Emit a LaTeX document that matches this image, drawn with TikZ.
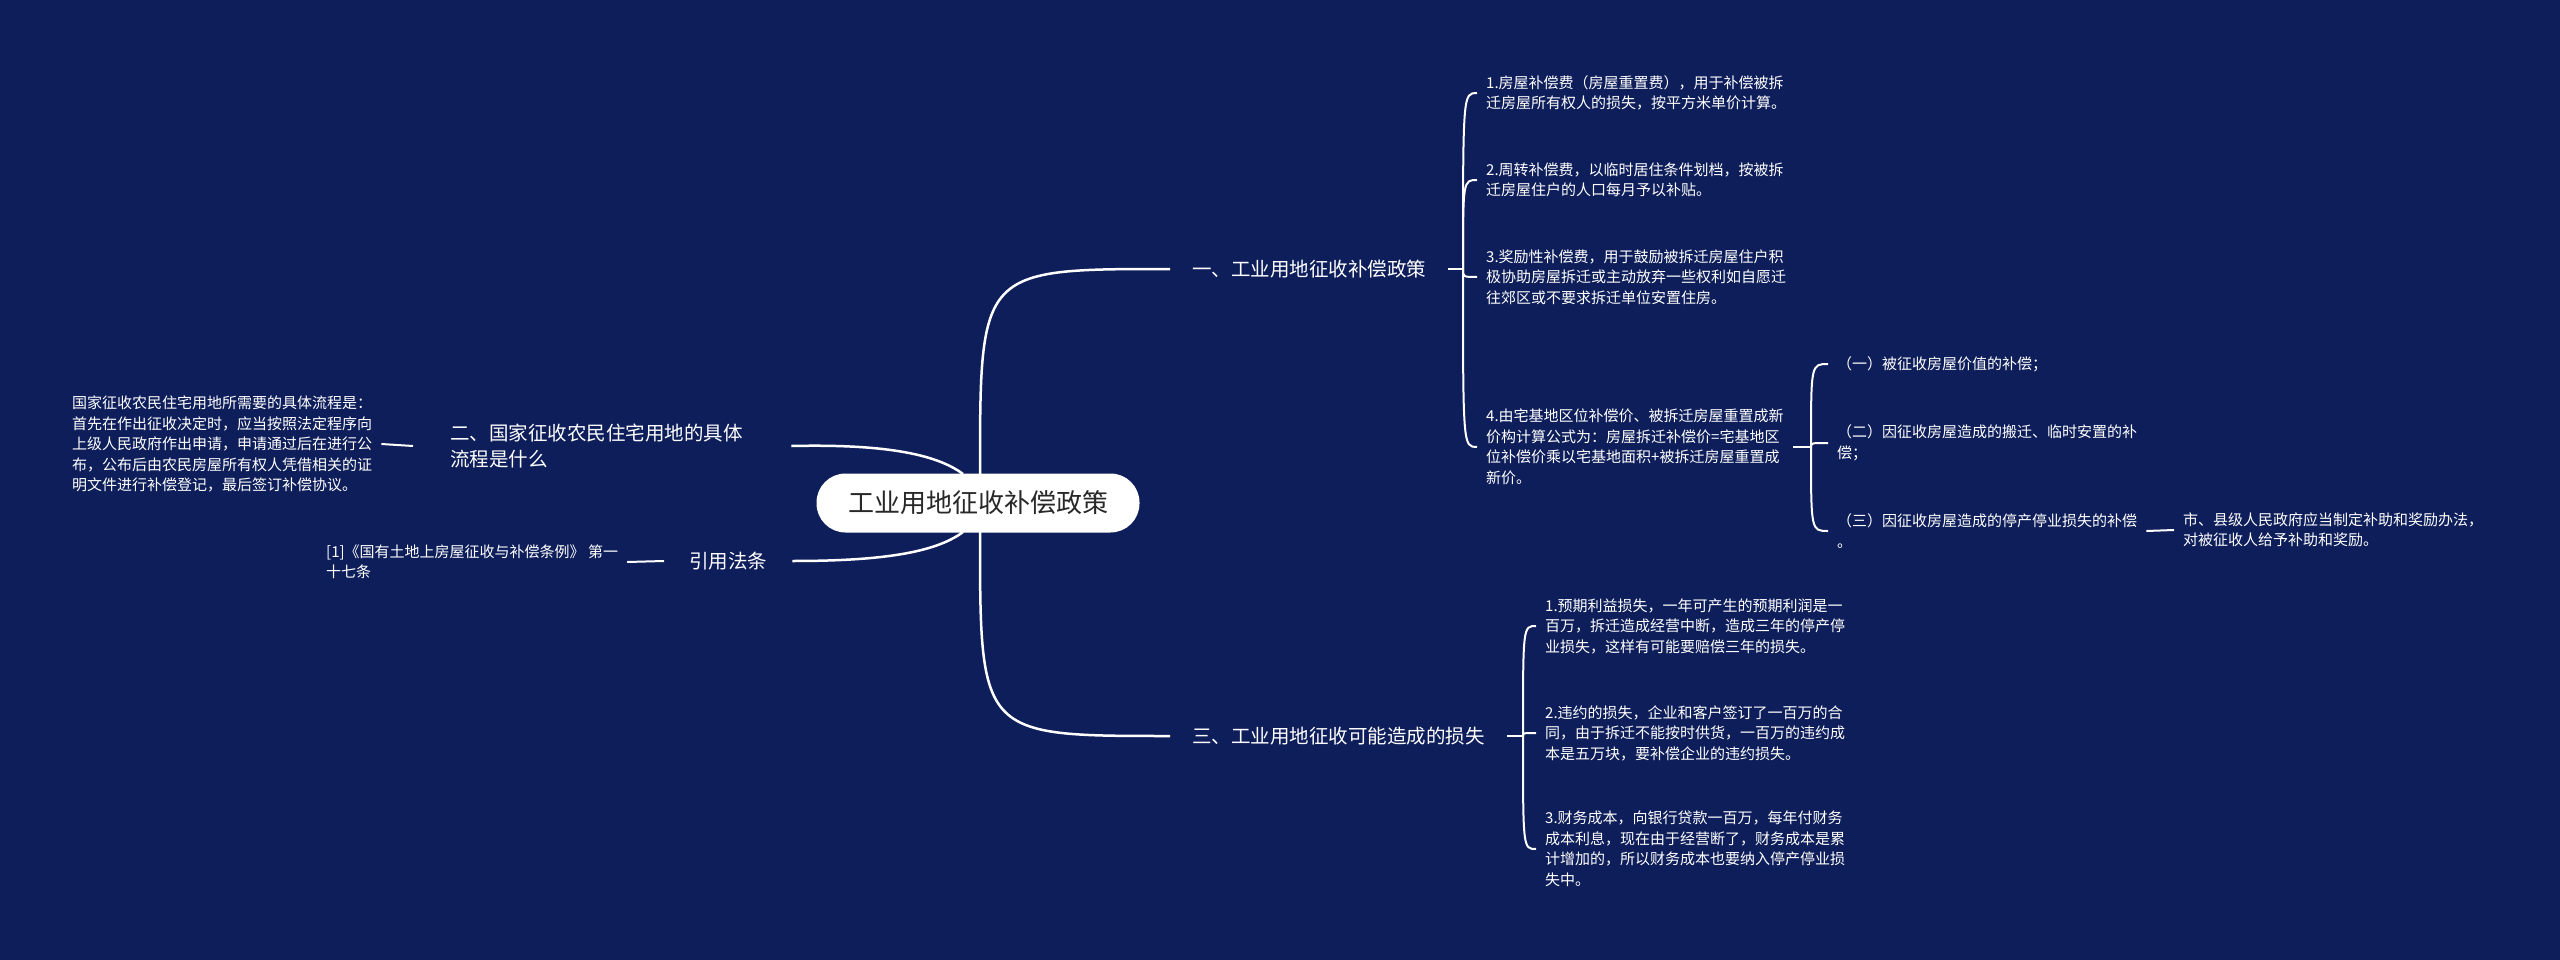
\documentclass[tikz,border=0pt]{standalone}
\usepackage{fontspec}
\setmainfont{Noto Sans CJK SC}
\definecolor{bgc}{RGB}{14,30,90}
\definecolor{ctext}{RGB}{40,40,40}
\begin{document}
\begin{tikzpicture}[x=1pt,y=-1pt,
  leaf/.style={anchor=west,align=left,inner xsep=9pt,inner ysep=2pt,text=white,font=\fontsize{15}{20.5}\selectfont},
  branch/.style={anchor=west,align=left,inner xsep=22pt,inner ysep=4pt,text=white,font=\fontsize{19.5}{26}\selectfont},
  rootnode/.style={fill=white,rounded corners=29pt,minimum width=323pt,minimum height=59pt,text=ctext,font=\fontsize{26}{30}\selectfont},
  mainline/.style={draw=white,line width=2.5pt},
  subline/.style={draw=white,line width=2pt}]
\fill[bgc] (0,0) rectangle (2560,960);
\useasboundingbox (0,0) rectangle (2560,960);

% root
\node[rootnode] (root) at (978,503) {工业用地征收补偿政策};

% branches
\node[branch] (b1) at (1170,269) {一、工业用地征收补偿政策};
\node[branch] (b3) at (1170,736) {三、工业用地征收可能造成的损失};
\node[branch,inner xsep=37pt,text width=304pt] (b2) at (413,446) {二、国家征收农民住宅用地的具体\\流程是什么};
\node[branch,inner xsep=25pt] (b4) at (664,561) {引用法条};

% main curves
\coordinate (rt) at (980,474);
\coordinate (rb) at (980,532);
\coordinate (lt) at (963,474);
\coordinate (lb) at (963,532);
\draw[mainline] (rt) .. controls (rt |- b1.west) .. (b1.west);
\draw[mainline] (rb) .. controls (rb |- b3.west) .. (b3.west);
\draw[mainline] (lt) .. controls (935,453) and (880,444) .. (b2.east);
\draw[mainline] (lb) .. controls (935,553) and (880,561) .. (b4.east);

% left leaves
\node[leaf] (L2) at (63,444) {国家征收农民住宅用地所需要的具体流程是：\\首先在作出征收决定时，应当按照法定程序向\\上级人民政府作出申请，申请通过后在进行公\\布，公布后由农民房屋所有权人凭借相关的证\\明文件进行补偿登记，最后签订补偿协议。};
\node[leaf] (L4) at (317,562) {[1]《国有土地上房屋征收与补偿条例》 第一\\十七条};
\draw[subline] (L2.east) -- (b2.west);
\draw[subline] (L4.east) -- (b4.west);

% branch 1 leaves
\node[leaf] (L1a) at (1477,93) {1.房屋补偿费（房屋重置费），用于补偿被拆\\迁房屋所有权人的损失，按平方米单价计算。};
\node[leaf] (L1b) at (1477,180) {2.周转补偿费，以临时居住条件划档，按被拆\\迁房屋住户的人口每月予以补贴。};
\node[leaf] (L1c) at (1477,277) {3.奖励性补偿费，用于鼓励被拆迁房屋住户积\\极协助房屋拆迁或主动放弃一些权利如自愿迁\\往郊区或不要求拆迁单位安置住房。};
\node[leaf] (L1d) at (1477,447) {4.由宅基地区位补偿价、被拆迁房屋重置成新\\价构计算公式为：房屋拆迁补偿价=宅基地区\\位补偿价乘以宅基地面积+被拆迁房屋重置成\\新价。};
\coordinate (B1) at (1463,269);
\draw[subline] (b1.east) -- (B1);
\foreach \n in {L1a,L1b,L1c,L1d}
  \draw[subline] (B1) .. controls (B1 |- \n.west) .. (\n.west);

% item 4 sub leaves
\node[leaf] (S1) at (1828,364) {（一）被征收房屋价值的补偿；};
\node[leaf] (S2) at (1828,443) {（二）因征收房屋造成的搬迁、临时安置的补\\偿；};
\node[leaf] (S3) at (1828,531) {（三）因征收房屋造成的停产停业损失的补偿\\。};
\node[leaf] (S3c) at (2174,530) {市、县级人民政府应当制定补助和奖励办法，\\对被征收人给予补助和奖励。};
\coordinate (B4) at (1811,447);
\draw[subline] (L1d.east) -- (B4);
\foreach \n in {S1,S2,S3}
  \draw[subline] (B4) .. controls (B4 |- \n.west) .. (\n.west);
\draw[subline] (S3.east) -- (S3c.west);

% branch 3 leaves
\node[leaf] (L3a) at (1536,626) {1.预期利益损失，一年可产生的预期利润是一\\百万，拆迁造成经营中断，造成三年的停产停\\业损失，这样有可能要赔偿三年的损失。};
\node[leaf] (L3b) at (1536,733) {2.违约的损失，企业和客户签订了一百万的合\\同，由于拆迁不能按时供货，一百万的违约成\\本是五万块，要补偿企业的违约损失。};
\node[leaf] (L3c) at (1536,849) {3.财务成本，向银行贷款一百万，每年付财务\\成本利息，现在由于经营断了，财务成本是累\\计增加的，所以财务成本也要纳入停产停业损\\失中。};
\coordinate (B3) at (1523,736);
\draw[subline] (b3.east) -- (B3);
\foreach \n in {L3a,L3b,L3c}
  \draw[subline] (B3) .. controls (B3 |- \n.west) .. (\n.west);
\end{tikzpicture}
\end{document}
